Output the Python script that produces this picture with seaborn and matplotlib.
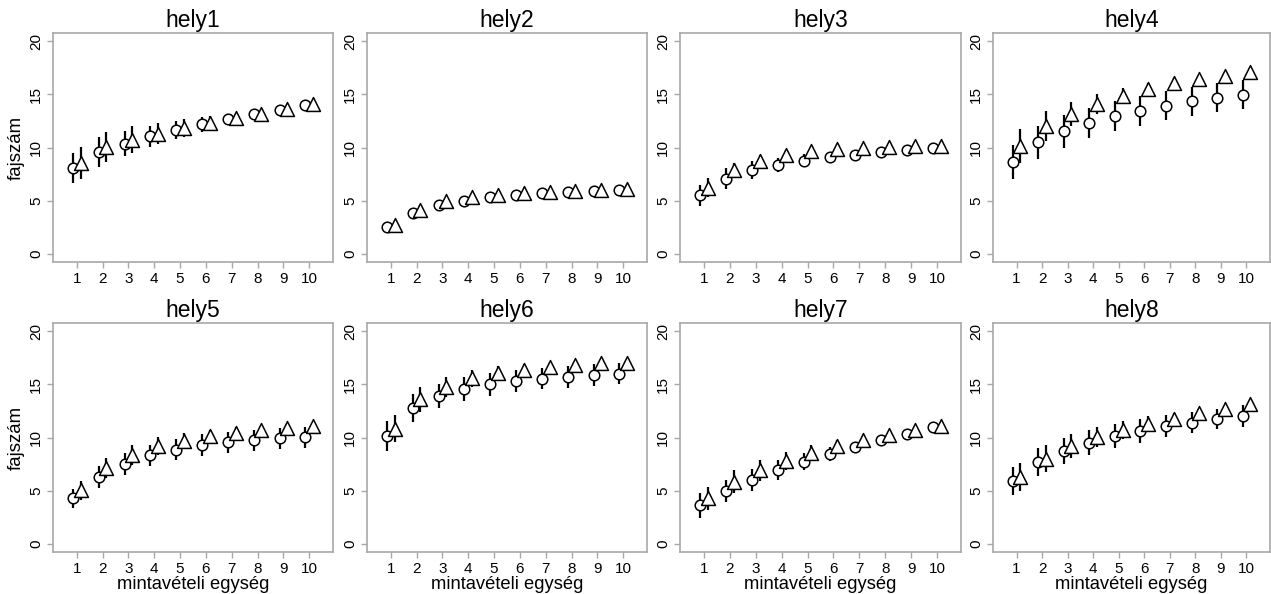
import numpy as np
import pandas as pd
import matplotlib
matplotlib.use("Agg")
import matplotlib.pyplot as plt
import seaborn as sns

sns.set_style("white")
plt.rcParams['font.family'] = ['Liberation Sans', 'DejaVu Sans']
plt.rcParams['text.color'] = 'black'
plt.rcParams['axes.labelcolor'] = 'black'

units = list(range(1, 11))
sites = ["hely1", "hely2", "hely3", "hely4", "hely5", "hely6", "hely7", "hely8"]

circle_mean = {
    "hely1": [8.07, 9.55, 10.36, 11.05, 11.68, 12.18, 12.68, 13.12, 13.56, 13.97],
    "hely2": [2.48, 3.83, 4.55, 5.0, 5.3, 5.53, 5.68, 5.78, 5.87, 5.97],
    "hely3": [5.5, 7.06, 7.9, 8.38, 8.76, 9.07, 9.32, 9.58, 9.8, 9.98],
    "hely4": [8.6, 10.49, 11.52, 12.3, 12.94, 13.47, 13.94, 14.35, 14.7, 14.98],
    "hely5": [4.25, 6.3, 7.5, 8.31, 8.85, 9.29, 9.54, 9.73, 9.92, 10.02],
    "hely6": [10.14, 12.82, 13.92, 14.55, 15.0, 15.34, 15.56, 15.72, 15.9, 16.0],
    "hely7": [3.59, 4.94, 5.98, 6.9, 7.72, 8.44, 9.1, 9.73, 10.36, 10.99],
    "hely8": [5.89, 7.69, 8.72, 9.51, 10.14, 10.61, 11.09, 11.4, 11.78, 12.03],
}
circle_err = {
    "hely1": [1.45, 1.4, 1.2, 1.0, 0.85, 0.7, 0.45, 0.3, 0.15, 0.0],
    "hely2": [0.4, 0.4, 0.35, 0.3, 0.25, 0.2, 0.15, 0.1, 0.05, 0.0],
    "hely3": [1.0, 1.0, 0.85, 0.65, 0.6, 0.45, 0.3, 0.2, 0.1, 0.0],
    "hely4": [1.6, 1.57, 1.52, 1.42, 1.42, 1.4, 1.35, 1.35, 1.35, 1.35],
    "hely5": [0.9, 1.05, 1.05, 1.0, 1.0, 1.0, 0.97, 0.98, 1.0, 1.0],
    "hely6": [1.37, 1.32, 1.17, 1.15, 1.05, 1.03, 1.0, 1.03, 1.03, 1.0],
    "hely7": [1.15, 1.07, 1.03, 0.95, 0.82, 0.65, 0.5, 0.3, 0.15, 0.0],
    "hely8": [1.3, 1.29, 1.26, 1.2, 1.15, 1.1, 1.03, 1.0, 0.95, 1.0],
}
tri_mean = {
    "hely1": [8.54, 10.05, 10.74, 11.3, 11.84, 12.3, 12.8, 13.2, 13.65, 14.06],
    "hely2": [2.73, 4.14, 4.93, 5.3, 5.55, 5.71, 5.8, 5.9, 6.0, 6.1],
    "hely3": [6.19, 7.9, 8.76, 9.32, 9.64, 9.86, 10.0, 10.05, 10.1, 10.1],
    "hely4": [10.17, 12.0, 13.15, 14.1, 14.88, 15.5, 16.07, 16.45, 16.77, 17.08],
    "hely5": [5.04, 7.15, 8.35, 9.2, 9.67, 10.1, 10.46, 10.68, 10.9, 11.06],
    "hely6": [10.83, 13.6, 14.78, 15.6, 16.06, 16.38, 16.63, 16.82, 16.98, 17.07],
    "hely7": [4.25, 5.83, 6.9, 7.78, 8.57, 9.2, 9.76, 10.24, 10.68, 11.09],
    "hely8": [6.27, 8.0, 9.2, 10.05, 10.7, 11.3, 11.78, 12.28, 12.72, 13.13],
}
tri_err = {
    "hely1": [1.5, 1.4, 1.25, 1.0, 0.85, 0.65, 0.45, 0.3, 0.15, 0.0],
    "hely2": [0.4, 0.4, 0.35, 0.3, 0.25, 0.2, 0.15, 0.1, 0.05, 0.0],
    "hely3": [0.9, 0.65, 0.5, 0.4, 0.3, 0.25, 0.15, 0.1, 0.05, 0.0],
    "hely4": [1.6, 1.4, 1.15, 0.95, 0.75, 0.6, 0.45, 0.35, 0.2, 0.1],
    "hely5": [0.9, 0.95, 0.9, 0.85, 0.75, 0.65, 0.55, 0.45, 0.35, 0.25],
    "hely6": [1.25, 1.15, 0.95, 0.8, 0.65, 0.55, 0.45, 0.35, 0.25, 0.15],
    "hely7": [1.1, 1.1, 1.02, 0.85, 0.7, 0.55, 0.4, 0.3, 0.15, 0.0],
    "hely8": [1.35, 1.25, 1.15, 0.95, 0.85, 0.7, 0.55, 0.45, 0.3, 0.2],
}

W, H = 1271, 594
fig = plt.figure(figsize=(W / 100, H / 100), dpi=100)

lefts = [53, 367, 680, 993]
rights = [333, 647, 961, 1270]
tops = [33, 323]
bottoms = [262, 552]
grey = "#a8a8a8"

for i, site in enumerate(sites):
    r, c = divmod(i, 4)
    ax = fig.add_axes([lefts[c] / W, 1 - bottoms[r] / H,
                       (rights[c] - lefts[c]) / W, (bottoms[r] - tops[r]) / H])
    x = np.array(units, dtype=float)
    df = pd.DataFrame({
        "x": np.concatenate([x - 0.15, x + 0.15]),
        "y": circle_mean[site] + tri_mean[site],
        "err": circle_err[site] + tri_err[site],
        "grp": ["c"] * 10 + ["t"] * 10,
    })
    ax.vlines(df["x"], df["y"] - df["err"], df["y"] + df["err"],
              color="black", lw=1.6, zorder=1)
    sns.scatterplot(data=df[df.grp == "c"], x="x", y="y", marker="o", s=58,
                    facecolor="white", edgecolor="black", linewidth=1.1,
                    ax=ax, zorder=3)
    sns.scatterplot(data=df[df.grp == "t"], x="x", y="y", marker="^", s=100,
                    facecolor="white", edgecolor="black", linewidth=1.1,
                    ax=ax, zorder=3)
    ax.set_xlim(0.08, 10.92)
    ax.set_ylim(-0.8, 20.8)
    ax.set_xticks(units)
    ax.set_xticklabels([str(u) for u in units])
    ax.set_yticks([0, 5, 10, 15, 20])
    ax.set_yticklabels(["0", "5", "10", "15", "20"], rotation=90, va="center")
    ax.tick_params(axis="both", direction="out", length=4, width=1, color=grey,
                   labelsize=11, labelcolor="black", pad=3, bottom=True, left=True)
    for sp in ax.spines.values():
        sp.set_color(grey)
        sp.set_linewidth(1.2)
    ax.set_title(site, fontsize=16.5, pad=4, color="black")
    ax.set_xlabel("mintavételi egység" if r == 1 else "", fontsize=13.2, labelpad=0.5)
    ax.set_ylabel("fajszám" if c == 0 else "", fontsize=13.4, labelpad=3)
    if ax.get_legend():
        ax.get_legend().remove()

fig.savefig("out.png", dpi=100)
